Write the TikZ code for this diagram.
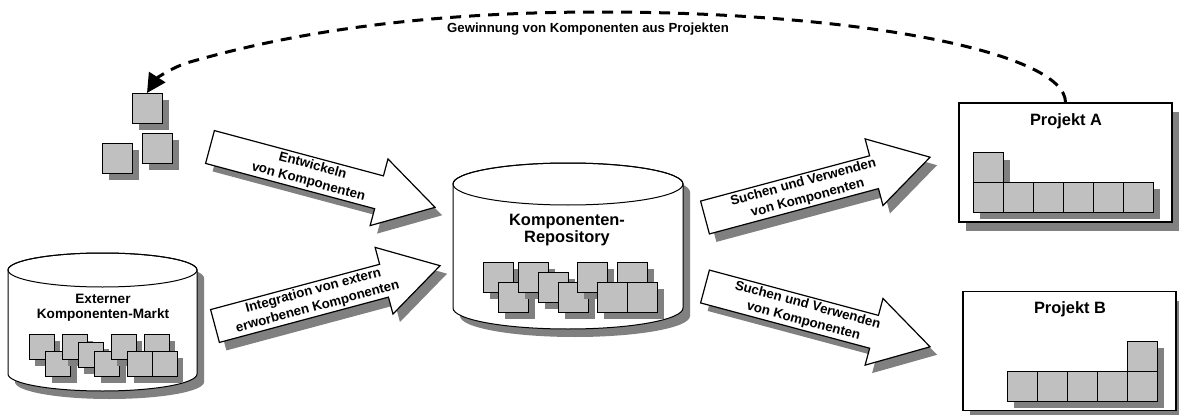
\documentclass[tikz,border=0pt]{standalone}
\usepackage{fontspec}
\setmainfont{Liberation Sans}
\usetikzlibrary{arrows.meta,shadows}
\definecolor{tilegray}{RGB}{192,192,192}
\definecolor{shadegray}{RGB}{128,128,128}

\tikzset{
  tile/.style={draw=black, fill=tilegray, line width=1pt, minimum size=30pt,
    inner sep=0pt, outer sep=0pt,
    general shadow={fill=shadegray, shadow xshift=7pt, shadow yshift=-7pt}},
  minitile/.style={draw=black, fill=tilegray, line width=1pt, minimum size=25pt,
    inner sep=0pt, outer sep=0pt,
    general shadow={fill=shadegray, shadow xshift=6pt, shadow yshift=-6pt}},
  projbox/.style={draw=black, fill=white, line width=1.2pt, minimum width=213pt,
    minimum height=119pt, inner sep=0pt,
    general shadow={fill=shadegray, shadow xshift=7pt, shadow yshift=-9pt}},
  heading/.style={font=\fontsize{16.4}{17}\selectfont\bfseries, align=center, inner sep=0pt},
  drumtext/.style={font=\fontsize{13.6}{15.5}\selectfont\bfseries, align=center, inner sep=0pt},
  arrowtext/.style={font=\fontsize{13.3}{16.5}\selectfont\bfseries, align=center, inner sep=0pt},
  arclabel/.style={font=\fontsize{13.2}{15}\selectfont\bfseries, inner sep=0pt},
  drumline/.style={draw=black, fill=white, line width=1pt},
  dashline/.style={line width=3pt, dash pattern=on 11pt off 8pt,
    -{Triangle[length=19pt,width=19pt]}},
  arrowbody/.pic={
    \path[draw=black, fill=white, line width=1.2pt]
      (0,-17) -- (175,-17) -- (175,-34.5) -- (233,0) -- (175,34.5) -- (175,17) -- (0,17) -- cycle;},
  arrowshade/.pic={
    \fill[shadegray]
      (0,-17) -- (175,-17) -- (175,-34.5) -- (233,0) -- (175,34.5) -- (175,17) -- (0,17) -- cycle;},
}

\begin{document}
\begin{tikzpicture}[x=1pt,y=-1pt]
\useasboundingbox (0,0) rectangle (1179,415);

% ---------- loose components (top left) ----------
\node[tile] (s1) at (147,108) {};
\node[tile] (s2) at (117,158) {};
\node[tile] (s3) at (157,148) {};

% ---------- external market (drum) ----------
\fill[shadegray] (15,278) -- (15,382) arc[start angle=180,end angle=0,x radius=94.5,y radius=17]
  -- (204,278) arc[start angle=0,end angle=-180,x radius=94.5,y radius=17] -- cycle;
\path[drumline] (8,270) -- (8,374) arc[start angle=180,end angle=0,x radius=94.5,y radius=17]
  -- (197,270) arc[start angle=0,end angle=-180,x radius=94.5,y radius=17] -- cycle;
\draw[line width=1pt] (102.5,270) ellipse[x radius=94.5,y radius=17];
\node[drumtext] (market) at (103,307.5) {Externer\\Komponenten-Markt};
\node[minitile] (m1) at (41.5,347) {};
\node[minitile] (m2) at (58,364) {};
\node[minitile] (m3) at (74.5,347) {};
\node[minitile] (m4) at (90.5,355) {};
\node[minitile] (m5) at (107,364) {};
\node[minitile] (m6) at (123.5,347) {};
\node[minitile] (m7) at (156.5,347) {};
\node[minitile] (m8) at (140,364) {};
\node[minitile] (m9) at (164.5,364) {};

% ---------- repository (drum) ----------
\fill[shadegray] (460,192) -- (460,316) arc[start angle=180,end angle=0,x radius=115,y radius=21]
  -- (690,192) arc[start angle=0,end angle=-180,x radius=115,y radius=21] -- cycle;
\path[drumline] (453,184) -- (453,308) arc[start angle=180,end angle=0,x radius=115,y radius=21]
  -- (683,184) arc[start angle=0,end angle=-180,x radius=115,y radius=21] -- cycle;
\draw[line width=1pt] (568,184) ellipse[x radius=115,y radius=21];
\node[heading] (repo) at (567,230) {Komponenten-\\Repository};
\node[tile] (r1) at (498,277) {};
\node[tile] (r2) at (513,297) {};
\node[tile] (r3) at (533,277) {};
\node[tile] (r4) at (553,287) {};
\node[tile] (r5) at (573,297) {};
\node[tile] (r6) at (592,277) {};
\node[tile] (r7) at (632,277) {};
\node[tile] (r8) at (612,297) {};
\node[tile] (r9) at (642,297) {};

% ---------- projects ----------
\node[projbox] (pa) at (1065.5,162.5) {};
\node[heading] (palabel) at (1066,121) {Projekt A};
\node[tile] (a0) at (988,167.5) {};
\foreach \i/\x in {1/988,2/1018,3/1048,4/1078,5/1108,6/1138}
  \node[tile] (a\i) at (\x,197) {};

\node[projbox] (pb) at (1069.5,351) {};
\node[heading] (pblabel) at (1070,309) {Projekt B};
\node[tile] (b0) at (1142,356) {};
\foreach \i/\x in {1/1022,2/1052,3/1082,4/1112,5/1142}
  \node[tile] (b\i) at (\x,386) {};

% ---------- block arrows ----------
\pic[rotate=-15] at (217,155) {arrowshade};
\pic[rotate=-15] at (210,147) {arrowbody};
\node[arrowtext, rotate=-15] (dev) at (310.5,173.9) {Entwickeln\\von Komponenten};

\pic[rotate=15] at (222,334) {arrowshade};
\pic[rotate=15] at (215,326) {arrowbody};
\node[arrowtext, rotate=15] (integ) at (315.5,299.1) {Integration von extern\\erworbenen Komponenten};

\pic[rotate=15] at (712,225.5) {arrowshade};
\pic[rotate=15] at (705,217.5) {arrowbody};
\node[arrowtext, rotate=15] (usea) at (805.5,190.6) {Suchen und Verwenden\\von Komponenten};

\pic[rotate=-15] at (712,294.5) {arrowshade};
\pic[rotate=-15] at (705,286.5) {arrowbody};
\node[arrowtext, rotate=-15] (useb) at (805.5,313.4) {Suchen und Verwenden\\von Komponenten};

% ---------- harvesting loop ----------
\draw[dashline] (pa.north) .. controls +(0,-50.3) and (856.8,12) .. (600,12)
  .. controls (388,12) and (260,42) .. (190,62)
  .. controls (172,67) and (156,79) .. (s1.north);
\node[arclabel] (harvest) at (588,29) {Gewinnung von Komponenten aus Projekten};
\end{tikzpicture}
\end{document}
